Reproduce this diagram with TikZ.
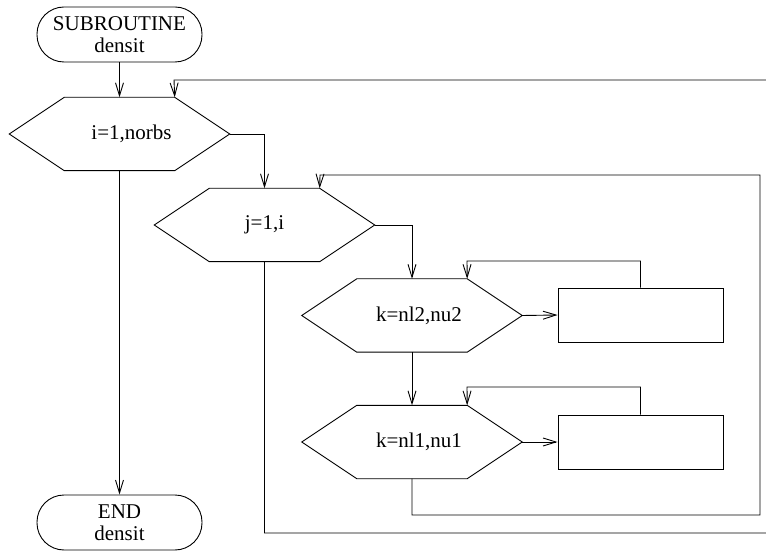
\documentclass[tikz,border=0pt]{standalone}
\usepackage{fontspec}
\setmainfont{Liberation Serif}
\usetikzlibrary{arrows.meta,calc}
\tikzset{
 conn/.style={draw, line width=0.9pt},
 arr/.style={conn, -{Straight Barb[length=13pt,width=8pt]}},
 term/.style={draw, line width=0.9pt, rounded corners=27pt, minimum width=165pt, minimum height=55pt, align=center, inner sep=0pt, font=\fontsize{21}{22}\selectfont},
 hexbox/.style={minimum width=220pt, minimum height=73pt, inner sep=0pt, font=\fontsize{21}{22}\selectfont},
 procbox/.style={draw, line width=0.9pt, minimum width=165pt, minimum height=54pt, inner sep=0pt},
}
\newcommand\hexoutline[1]{\draw[line width=0.9pt] (#1.west) -- ($(#1.north west)+(55,0)$) -- ($(#1.north east)+(-55,0)$) -- (#1.east) -- ($(#1.south east)+(-55,0)$) -- ($(#1.south west)+(55,0)$) -- cycle;}
\begin{document}
\begin{tikzpicture}[x=1pt,y=-1pt]
\useasboundingbox (0,0) rectangle (766,553);
\node[term] (sub) at (119.5,34.5) {SUBROUTINE\\densit};
\node[term] (end) at (119.5,522.5) {END\\densit};
\node[hexbox] (i) at (119.5,134) {\hspace*{24pt}i=1,norbs};
\node[hexbox] (j) at (264.5,225) {j=1,i};
\node[hexbox] (k2) at (412,315.5) {\hspace*{14pt}k=nl2,nu2};
\node[hexbox] (k1) at (412,442) {\hspace*{14pt}k=nl1,nu1};
\hexoutline{i}
\hexoutline{j}
\hexoutline{k2}
\hexoutline{k1}
\node[procbox] (b1) at (640.5,315) {};
\node[procbox] (b2) at (640.5,442) {};
\coordinate (itop) at ($(i.north east)+(-55,0)$);
\coordinate (jtop) at ($(j.north east)+(-55,0)$);
\coordinate (k2top) at ($(k2.north east)+(-55,0)$);
\coordinate (k1top) at ($(k1.north east)+(-55,0)$);
% connectors
\draw[arr] (sub.south) -- (i.north);
\draw[arr] (i.south) -- (end.north);
\draw[arr] (i.east) -| (j.north);
\draw[arr] (j.east) -| (k2.north);
\draw[arr] (k2.east) -- (b1.west);
\draw[arr] (k1.east) -- (b2.west);
\draw[arr] (k2.south) -- (k1.north);
\draw[arr] (b1.north) |- (467,261) -- (k2top);
\draw[arr] (b2.north) |- (467,387) -- (k1top);
\draw[arr] (k1.south) -- (412,515) -- (760,515) -- (760,175) -- (320,175) -- (jtop);
\draw[arr] (j.south) -- (264.5,533) -- (768,533) -- (768,80) -- (174,80) -- (itop);
\end{tikzpicture}
\end{document}
